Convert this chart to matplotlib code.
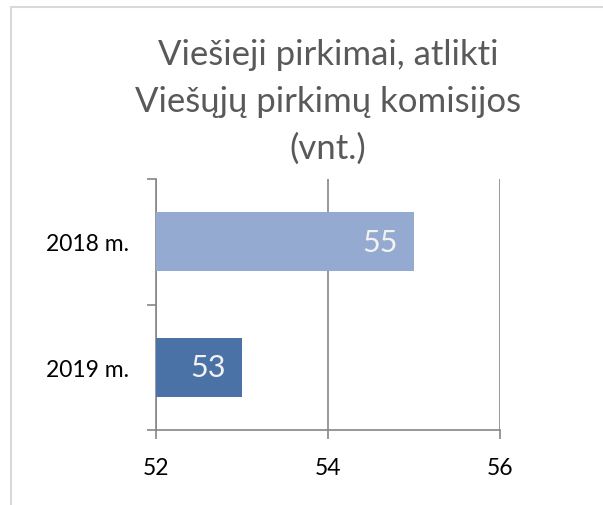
import matplotlib
matplotlib.use("Agg")
import matplotlib.pyplot as plt
from matplotlib.patches import Rectangle

categories = ["2019 m.", "2018 m."]
values = [53, 55]
colors = ["#4A72A6", "#95AAD1"]
title = "Viešieji pirkimai, atlikti\nViešųjų pirkimų komisijos\n(vnt.)"
xticks = [52, 54, 56]

plt.rcParams['font.family'] = ['Lato', 'DejaVu Sans']

fig = plt.figure(figsize=(6.03, 5.06), dpi=100)
fig.patches.append(Rectangle((11/603, -0.1), 1.2, 1 - 8/506 + 0.1, transform=fig.transFigure,
                             fill=False, edgecolor="#D9D9D9", linewidth=1.5))
ax = fig.add_axes([156/603, 1 - 431/506, (500 - 156)/603, (431 - 180)/506])

ypos = list(range(len(categories)))
ax.barh(ypos, [v - 52 for v in values], left=52, height=0.47, color=colors, zorder=3)
for y, v in zip(ypos, values):
    ax.annotate(str(v), xy=(v, y), xytext=(-12, 0), textcoords="offset points",
                ha="right", va="center", color="#F2F2F2", fontsize=22, zorder=4)

ax.set_xlim(52, 56)
ax.set_ylim(-0.5, 1.5)
ax.set_xticks(xticks)
ax.set_xticklabels([str(t) for t in xticks], fontsize=16.5)
ax.set_yticks([-0.5, 0.5, 1.5])
ax.set_yticklabels([])
ax.set_yticks(ypos, minor=True)
ax.set_yticklabels(categories, minor=True, fontsize=16.5)
ax.tick_params(axis="y", which="minor", length=0, pad=19.5)
ax.tick_params(axis="y", which="major", length=6.5, width=1.2, color="#868686", direction="out")
ax.tick_params(axis="x", length=6.5, width=1.2, color="#868686", direction="out", pad=13)
ax.grid(axis="x", color="#868686", linewidth=1.2, zorder=0)
for s in ["top", "right"]:
    ax.spines[s].set_visible(False)
for s in ["left", "bottom"]:
    ax.spines[s].set_color("#868686")
    ax.spines[s].set_linewidth(1.2)

fig.text(328/603, 1 - 102/506, title, ha="center", va="center", fontsize=25,
         color="#595959", linespacing=1.56)

fig.savefig("out.png", dpi=100)
